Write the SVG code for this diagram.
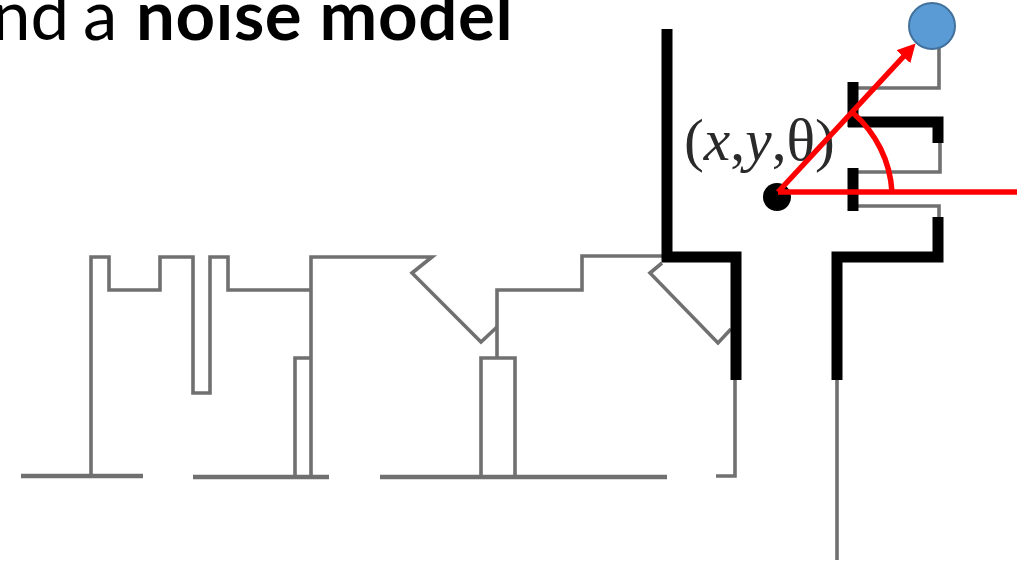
<svg xmlns="http://www.w3.org/2000/svg" width="1031" height="563" viewBox="0 0 1031 563">
<style>
.g{fill:none;stroke:#707070;stroke-width:3.6;stroke-linejoin:miter}
.f{fill:none;stroke:#707070;stroke-width:4.4}
.k{fill:none;stroke:#000;stroke-width:11;stroke-linejoin:miter}
.r{fill:none;stroke:#f00;stroke-width:5.5}
.h{font-family:"Lato","Open Sans",sans-serif;font-size:69px;fill:#000}
.m{font-family:"Liberation Serif",serif;font-size:60px;fill:#2a2a2a}
</style>
<defs>
<filter id="soft" x="-5%" y="-5%" width="110%" height="110%"><feGaussianBlur stdDeviation="0.7"/></filter>
<marker id="head" markerUnits="userSpaceOnUse" markerWidth="20" markerHeight="20" refX="1" refY="10" orient="auto" viewBox="0 0 20 20"><path d="M0,0.5 L18,10 L0,19.5 Z" fill="#f00"/></marker>
</defs>
<rect width="1031" height="563" fill="#fff"/>
<text id="title" class="h" y="40"><tspan x="-8">nd</tspan><tspan x="83">a</tspan><tspan x="136" font-weight="700" letter-spacing="0.6">noise model</tspan></text>
<g id="floorplan" filter="url(#soft)">
<g id="thin-walls">
<path class="f" d="M21,476H143"/>
<path class="g" d="M91,476V257H109V290H160V257H193V393H210V257H228V290H311"/>
<path class="g" d="M311,476V257H432L412,273L481,342L497,327"/>
<path class="g" d="M295,477V358H311"/>
<path class="f" d="M193,477H329"/>
<path class="g" d="M497,358V290H582V256H664"/>
<path class="g" d="M481,477V358H515V477"/>
<path class="f" d="M380,477H667"/>
<path class="g" d="M662,263L650,273L718,343L731,329"/>
<path class="g" d="M735,380V476H716"/>
<path class="g" d="M837,380V560"/>
<path class="g" d="M939,217V206H858"/>
<path class="g" d="M858,172H940V143"/>
<path class="g" d="M858,88H939V40"/>
</g>
<g id="thick-walls">
<path class="k" d="M667,29V257H736V380"/>
<path class="k" d="M837,380V257H938V217"/>
<path class="k" d="M853,168V211"/>
<path class="k" d="M853,82V127"/>
<path class="k" d="M848,122H938V143"/>
</g>
<text id="pose" class="m" x="684" y="160" textLength="151" lengthAdjust="spacingAndGlyphs">(<tspan font-style="italic">x</tspan>,<tspan font-style="italic">y</tspan>,θ)</text>
<circle id="robot" cx="777" cy="197" r="14" fill="#000"/>
</g>
<circle id="landmark" cx="932" cy="26" r="23" fill="#5B9BD5" stroke="#41719C" stroke-width="2"/>
<g id="connectors">
<path class="r" d="M778,192H1017"/>
<path class="r" d="M778,192L904,56" marker-end="url(#head)"/>
<path class="r" d="M853,113A113,113 0 0 1 892,192"/>
</g>
</svg>
